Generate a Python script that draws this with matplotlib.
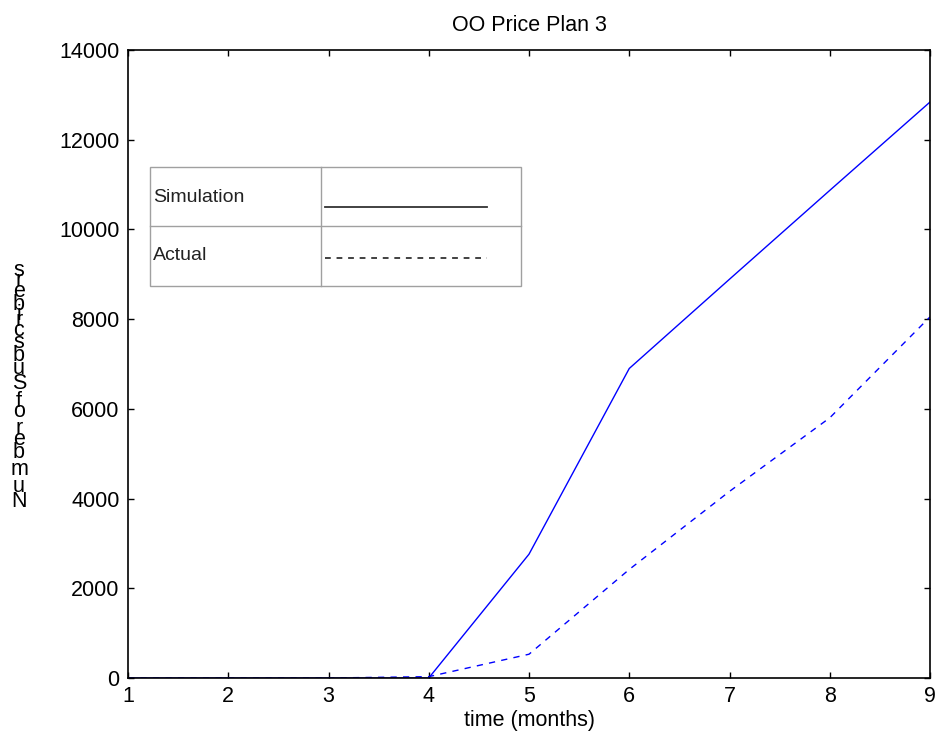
import matplotlib
matplotlib.use("Agg")
import matplotlib.pyplot as plt
from matplotlib.lines import Line2D
from matplotlib.patches import Rectangle
from matplotlib.font_manager import FontProperties

plt.rcParams["font.family"] = ["Liberation Sans", "DejaVu Sans"]

months = [1, 2, 3, 4, 5, 6, 7, 8, 9]
simulation = [0, 0, 0, 0, 2760, 6900, 8890, 10870, 12840]
actual = [0, 0, 0, 30, 530, 2420, 4160, 5800, 8050]

x_ticks = [1, 2, 3, 4, 5, 6, 7, 8, 9]
y_ticks = [0, 2000, 4000, 6000, 8000, 10000, 12000, 14000]

title = "OO Price Plan 3"
x_label = "time (months)"
y_label = "Number of Subscribers"
legend_labels = ["Simulation", "Actual"]

W, H = 935, 746
FS = 15.5

fig = plt.figure(figsize=(W / 100, H / 100), dpi=100)
ax = fig.add_axes([128 / W, 1 - 678 / H, (930 - 128) / W, (678 - 50) / H])

ax.plot(months, simulation, color="#0000ff", lw=1.0)
ax.plot(months, actual, color="#0000ff", lw=1.0, linestyle=(0, (4.5, 4.5)))

ax.set_xlim(1, 9)
ax.set_ylim(0, 14000)
ax.set_xticks(x_ticks)
ax.set_yticks(y_ticks)
ax.tick_params(direction="in", length=4, width=1, top=True, right=True,
               labelsize=FS, pad=6)
for s in ax.spines.values():
    s.set_linewidth(1.2)
ax.set_title(title, fontsize=FS, pad=14)
ax.set_xlabel(x_label, fontsize=FS, labelpad=2)


def px(x, y):
    return x / W, 1 - y / H


# table-like legend box
box_l, box_r, box_t, box_b = 150, 521, 167, 286
mid_x, mid_y = 321, 226
grey = "#a0a0a0"
fig.add_artist(Rectangle(px(box_l, box_b), (box_r - box_l) / W, (box_b - box_t) / H,
                         transform=fig.transFigure, fill=False, ec=grey, lw=1.0))
fig.add_artist(Line2D([mid_x / W] * 2, [px(0, box_t)[1], px(0, box_b)[1]],
                      transform=fig.transFigure, color=grey, lw=1.0))
fig.add_artist(Line2D([box_l / W, box_r / W], [px(0, mid_y)[1]] * 2,
                      transform=fig.transFigure, color=grey, lw=1.0))
fig.text(*px(153, 197), legend_labels[0], fontsize=14, color="#222222", va="center")
fig.text(*px(153, 256), legend_labels[1], fontsize=14, color="#222222", va="center")
fig.add_artist(Line2D([325 / W, 487 / W], [px(0, 207)[1]] * 2,
                      transform=fig.transFigure, color="#333333", lw=1.3))
fig.add_artist(Line2D([325 / W, 487 / W], [px(0, 258)[1]] * 2,
                      transform=fig.transFigure, color="#333333", lw=1.3,
                      linestyle=(0, (3.2, 3.2))))

# y label: glyphs stacked upright, advancing as if the text were rotated
renderer = fig.canvas.get_renderer()
prop = FontProperties(family="Liberation Sans", size=FS)


def advance(ch):
    w2 = renderer.get_text_width_height_descent("xx", prop, ismath=False)[0]
    w3 = renderer.get_text_width_height_descent("x" + ch + "x", prop, ismath=False)[0]
    return w3 - w2


total = sum(advance(ch) for ch in y_label)
scale = (510 - 265) / total
y = 510
for ch in y_label:
    a = advance(ch) * scale
    if ch != " ":
        fig.text(*px(19, y - a / 2), ch, fontsize=FS, ha="center", va="center")
    y -= a

fig.savefig("out.png", dpi=100)
